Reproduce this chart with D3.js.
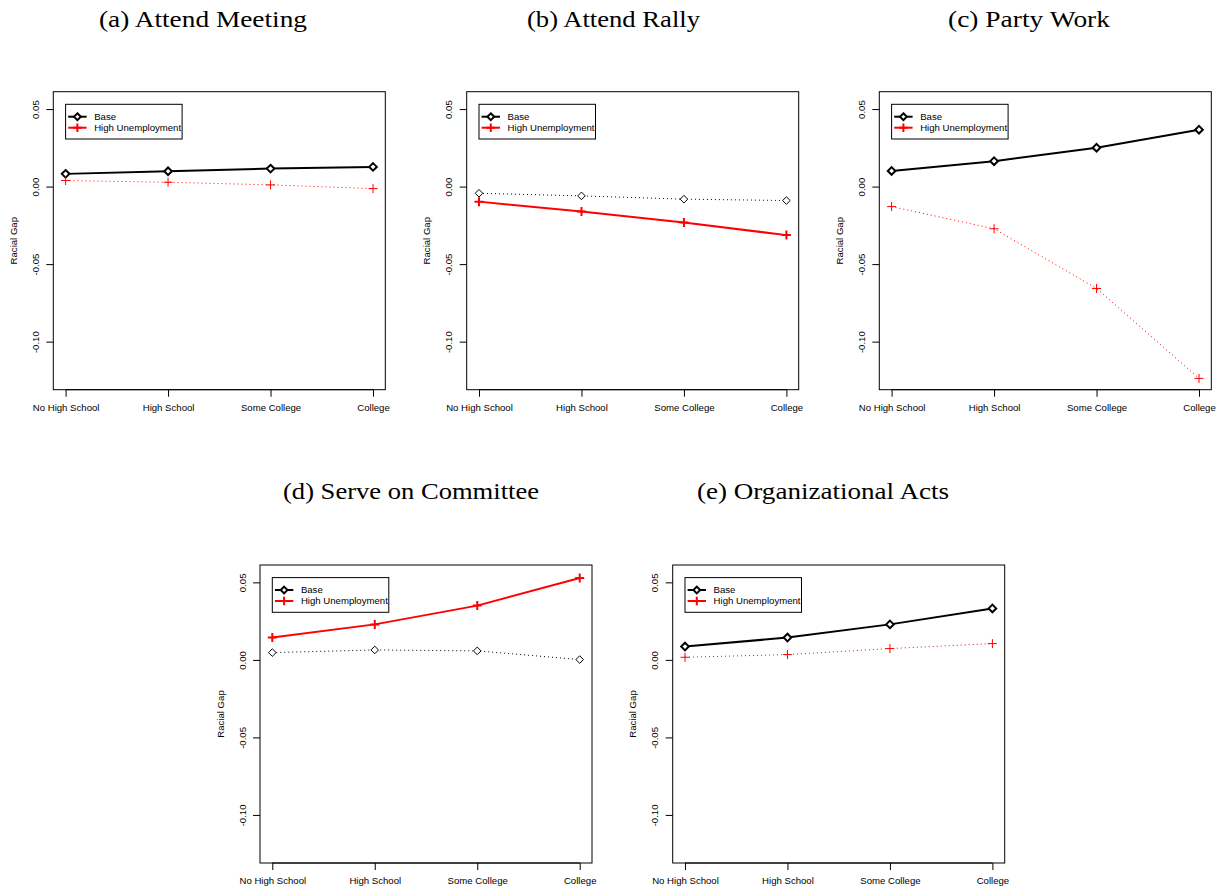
<!DOCTYPE html>
<html>
<head>
<meta charset="utf-8">
<script src="https://cdn.jsdelivr.net/npm/d3@7"></script>
<style>
  html, body { margin: 0; padding: 0; background: #fff; }
  svg { display: block; }
  .tick text, .lab { font-family: "Liberation Sans", Arial, Helvetica, sans-serif; }
  .title { font-family: "Liberation Serif", "DejaVu Serif", serif; }
</style>
</head>
<body>
<svg id="fig" width="1223" height="890"></svg>
<script>
// Education categories along the x axis
const categories = ["No High School", "High School", "Some College", "College"];

// Y axis ticks and their printed labels
const yTickValues = [0.05, 0.00, -0.05, -0.10];
const yTickLabels = ["0.05", "0.00", "-0.05", "-0.10"];

// Panel titles
const panelTitles = [
  "(a) Attend Meeting",
  "(b) Attend Rally",
  "(c) Party Work",
  "(d) Serve on Committee",
  "(e) Organizational Acts"
];

// Racial gap, baseline scenario
const baseMeeting   = [0.0082, 0.0099, 0.0116, 0.0127];
const baseRally     = [-0.0043, -0.0060, -0.0081, -0.0090];
const basePartyWork = [0.0101, 0.0164, 0.0251, 0.0367];
const baseCommittee = [0.0047, 0.0064, 0.0058, 0.0002];
const baseOrgActs   = [0.0086, 0.0144, 0.0229, 0.0332];

// Racial gap, high unemployment scenario
const highMeeting   = [0.0039, 0.0028, 0.0011, -0.0013];
const highRally     = [-0.0097, -0.0161, -0.0232, -0.0313];
const highPartyWork = [-0.0129, -0.0272, -0.0657, -0.1237];
const highCommittee = [0.0144, 0.0229, 0.0350, 0.0528];
const highOrgActs   = [0.0017, 0.0034, 0.0073, 0.0105];

const seriesNames = ["Base", "High Unemployment"];

// Which series is drawn as a heavy solid line in each panel (the other is dotted)
const solidSeries = ["base", "high", "base", "high", "base"];

// Panel plot-box placement on the page
const panelBoxes = [
  { left: 53.3,  top: 91.7 },
  { left: 466.7, top: 91.7 },
  { left: 879.3, top: 91.7 },
  { left: 260.0, top: 565.0 },
  { left: 672.7, top: 565.0 }
];
// Title centre, baseline and set width
const titlePos = [
  { x: 203,   y: 27,  w: 208 },
  { x: 613.5, y: 27,  w: 173 },
  { x: 1029,  y: 27,  w: 162 },
  { x: 411,   y: 499, w: 256 },
  { x: 823,   y: 499, w: 252 }
];

const baseSeries = [baseMeeting, baseRally, basePartyWork, baseCommittee, baseOrgActs];
const highSeries = [highMeeting, highRally, highPartyWork, highCommittee, highOrgActs];

const boxW = 332, boxH = 298;
const svg = d3.select("#fig");

const x = d3.scalePoint().domain(categories).range([0, boxW]).padding(0.12);
const y = d3.scaleLinear().domain([-0.131, 0.0612]).range([boxH, 0]);

const line = d3.line().x((d, i) => x(categories[i])).y(d => y(d));

function diamond(g, cx, cy, r, w) {
  g.append("path")
    .attr("d", `M${cx},${cy - r}L${cx + r},${cy}L${cx},${cy + r}L${cx - r},${cy}Z`)
    .attr("fill", "#fff").attr("stroke", "#000").attr("stroke-width", w);
}
function plus(g, cx, cy, r, w) {
  g.append("path")
    .attr("d", `M${cx - r},${cy}H${cx + r}M${cx},${cy - r}V${cy + r}`)
    .attr("fill", "none").attr("stroke", "#ff0000").attr("stroke-width", w);
}

panelBoxes.forEach((b, p) => {
  const g = svg.append("g").attr("transform", `translate(${b.left},${b.top})`);

  // title
  svg.append("text").attr("class", "title")
    .attr("x", titlePos[p].x).attr("y", titlePos[p].y)
    .attr("text-anchor", "middle").attr("font-size", 22.5)
    .attr("textLength", titlePos[p].w).attr("lengthAdjust", "spacingAndGlyphs")
    .text(panelTitles[p]);

  // y axis
  const ya = g.append("g").call(
    d3.axisLeft(y).tickValues(yTickValues).tickSize(7).tickSizeOuter(0)
      .tickFormat((d, i) => yTickLabels[i]));
  ya.select(".domain").remove();
  ya.selectAll(".tick text")
    .attr("transform", "rotate(-90)")
    .attr("x", 0).attr("y", -18).attr("dy", null)
    .attr("dominant-baseline", "central")
    .attr("text-anchor", "middle").attr("font-size", 9.6).attr("fill", "#000");

  // x axis
  const xa = g.append("g").attr("transform", `translate(0,${boxH})`).call(
    d3.axisBottom(x).tickSize(7).tickSizeOuter(0).tickPadding(7));
  xa.select(".domain").attr("d", `M${x(categories[0])},0H${x(categories[3])}`);
  xa.selectAll(".tick text").attr("font-size", 9.6).attr("fill", "#000");

  // axis title
  g.append("text").attr("class", "lab")
    .attr("transform", `translate(-40,${boxH / 2}) rotate(-90)`)
    .attr("text-anchor", "middle").attr("dominant-baseline", "central")
    .attr("font-size", 9.6).text("Racial Gap");

  // series
  const series = [
    { key: "base", vals: baseSeries[p], color: "#000", marker: diamond },
    { key: "high", vals: highSeries[p], color: "#ff0000", marker: plus }
  ];
  series.forEach(s => {
    const solid = solidSeries[p] === s.key;
    g.append("path").datum(s.vals)
      .attr("d", line).attr("fill", "none")
      .attr("stroke", s.color)
      .attr("stroke-width", solid ? 2 : 1)
      .attr("stroke-dasharray", solid ? null : "1,3");
  });
  series.forEach(s => {
    const solid = solidSeries[p] === s.key;
    s.vals.forEach((v, i) => s.marker(g, x(categories[i]), y(v),
      s.key === "base" ? 3.8 : 4.5, solid ? 2 : 1));
  });

  // plot box
  g.append("rect").attr("width", boxW).attr("height", boxH)
    .attr("fill", "none").attr("stroke", "#000").attr("stroke-width", 1);

  // legend
  const lg = g.append("g").attr("transform", `translate(${x(categories[0])},12.6)`);
  lg.append("rect").attr("width", 116.5).attr("height", 34.7)
    .attr("fill", "#fff").attr("stroke", "#000").attr("stroke-width", 1);
  series.forEach((s, k) => {
    const ry = 12.4 + k * 11;
    lg.append("line").attr("x1", 2.6).attr("x2", 21).attr("y1", ry).attr("y2", ry)
      .attr("stroke", s.color).attr("stroke-width", 2);
    s.marker(lg, 11.8, ry, s.key === "base" ? 3.4 : 4.3, 2);
    lg.append("text").attr("class", "lab")
      .attr("x", 28.6).attr("y", ry).attr("dominant-baseline", "central")
      .attr("font-size", 9.6).text(seriesNames[k]);
  });
});
</script>
</body>
</html>
